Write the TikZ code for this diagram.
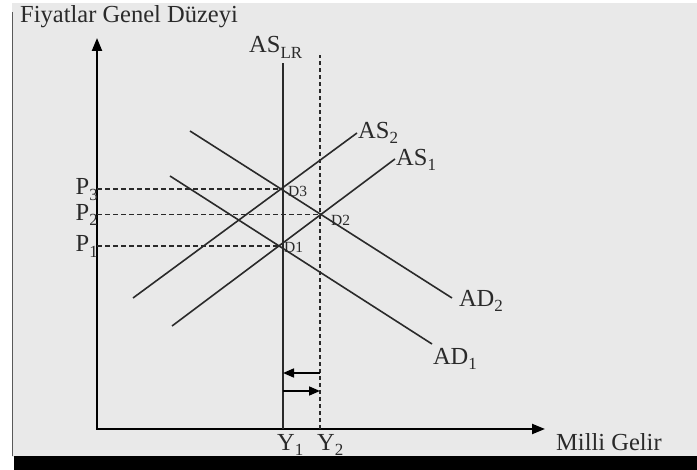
\documentclass[tikz,border=0pt]{standalone}
\usepackage{fontspec}
\setmainfont{Liberation Serif}
\usetikzlibrary{arrows.meta,intersections,calc}
\definecolor{bg}{HTML}{E9E9E9}
\definecolor{ink}{HTML}{2A2A2A}
\newcommand\lsub[1]{\raisebox{-0.22em}{\fontsize{17}{17}\selectfont #1}}
\begin{document}
\begin{tikzpicture}[x=1pt,y=-1pt,
  curve/.style={ink, line width=1.6pt},
  guide/.style={ink, line width=1.4pt, dash pattern=on 5pt off 3pt},
  axisline/.style={black, line width=2.2pt, -{Triangle[length=13pt,width=10pt]}},
  shift arrow/.style={black, line width=1.6pt, -{Triangle[length=11pt,width=9pt]}},
  lbl/.style={font=\fontsize{24.5}{27}\selectfont, text=ink, inner sep=0pt},
  dlbl/.style={font=\fontsize{15.5}{17}\selectfont, text=ink, inner sep=0pt},
]
\path[use as bounding box] (0,0) rectangle (697,470);
\fill[white] (0,0) rectangle (697,470);
\fill[bg] (12,3) rectangle (697,457);
\draw[gray!70!black, line width=1.5pt] (12.5,12) -- (12.5,456);
\fill[black] (14,456) rectangle (697,470);

% axes
\coordinate (O) at (97,429);
\coordinate (ytip) at (97,38);
\coordinate (xtip) at (545,429);
\draw[axisline] (97,430) -- (ytip);
\draw[axisline] (96,429) -- (xtip);
\node[lbl, anchor=base west] (ylab) at (20,23) {Fiyatlar Genel Düzeyi};
\node[lbl, anchor=base west] (xlab) at (556,451) {Milli Gelir};

% long-run AS and Y2 guide
\coordinate (lrTop) at (283,63);
\coordinate (lrBot) at (283,429);
\draw[curve] (lrBot) -- (lrTop);
\node[lbl, anchor=base west] (lrlab) at (249,53) {AS\lsub{LR}};
\coordinate (y2Top) at (320,55);
\coordinate (y2Bot) at (320,429);
\draw[guide, dash pattern=on 4pt off 3pt] (y2Bot) -- (y2Top);

% AS and AD curves
\coordinate (as1a) at (172,326); \coordinate (as1b) at (395,159);
\coordinate (as2a) at (133,298); \coordinate (as2b) at (357,133);
\coordinate (ad1a) at (170,176); \coordinate (ad1b) at (432,344);
\coordinate (ad2a) at (190,131); \coordinate (ad2b) at (452,298);
\draw[curve, name path=as1] (as1a) -- (as1b);
\draw[curve, name path=as2] (as2a) -- (as2b);
\draw[curve, name path=ad1] (ad1a) -- (ad1b);
\draw[curve, name path=ad2] (ad2a) -- (ad2b);
\node[lbl, anchor=west] (as1lab) at ($(as1b)+(1,1)$) {AS\lsub{1}};
\node[lbl, anchor=west] (as2lab) at ($(as2b)+(1,0)$) {AS\lsub{2}};
\node[lbl] (ad1lab) at (455,359) {AD\lsub{1}};
\node[lbl] (ad2lab) at (481,301) {AD\lsub{2}};

\path[name intersections={of=as1 and ad1, by=D1}];
\path[name intersections={of=as1 and ad2, by=D2}];
\path[name intersections={of=as2 and ad2, by=D3}];

% price guides
\foreach \d/\k in {D1/1,D2/2,D3/3}{
  \draw[guide] (\d -| O) -- (\d);
  \node[lbl, anchor=base east] (P\k) at ($(\d -| O)+(1,6)$) {P\lsub{\k}};
}
\node[dlbl, anchor=base west] (d3lab) at ($(D3)+(7,8)$) {D3};
\node[dlbl, anchor=base west] (d2lab) at ($(D2)+(10,11)$) {D2};
\node[dlbl, anchor=base west] (d1lab) at ($(D1)+(5,7)$) {D1};

% output shift arrows
\coordinate (la) at (320,373); \coordinate (lb) at (283,373);
\coordinate (ra) at (283,391); \coordinate (rb) at (320,391);
\draw[shift arrow] (la) -- (lb);
\draw[shift arrow] (ra) -- (rb);

\node[lbl, anchor=north west] (y1lab) at (277,434) {Y\lsub{1}};
\node[lbl, anchor=north west] (y2lab) at (317,434) {Y\lsub{2}};
\end{tikzpicture}
\end{document}
